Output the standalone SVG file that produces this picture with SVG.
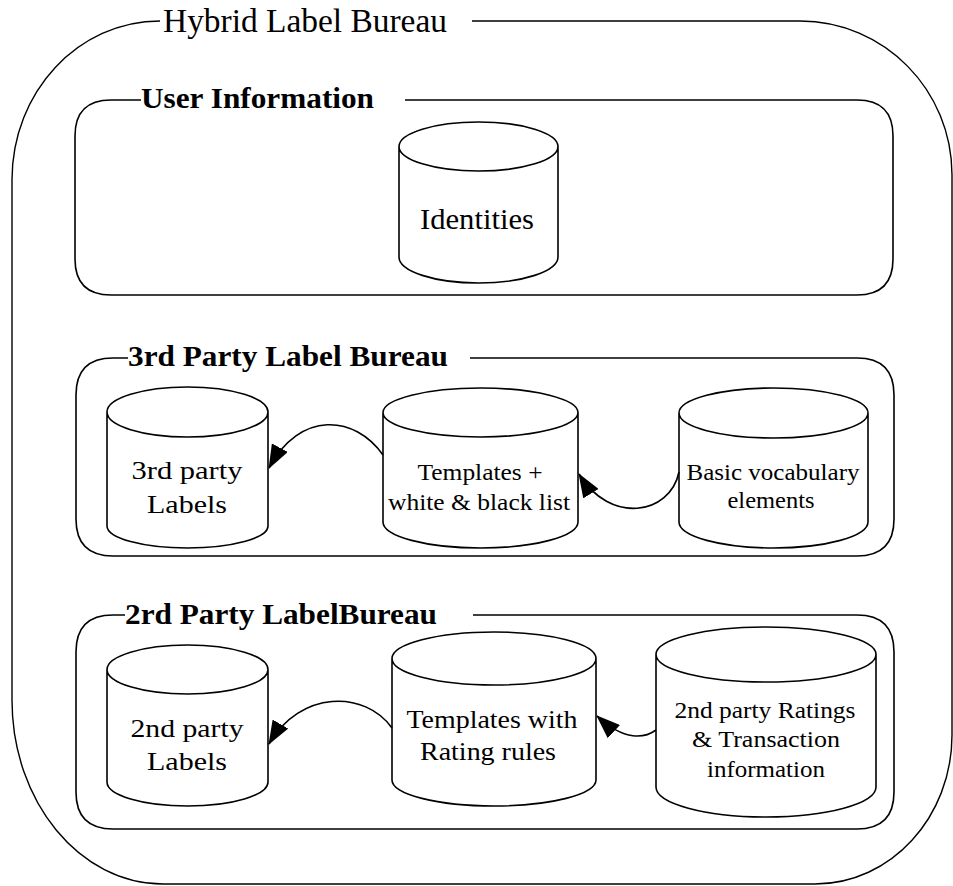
<svg xmlns="http://www.w3.org/2000/svg" width="953" height="886" viewBox="0 0 953 886">
  <style>
    .frame { fill: none; stroke: #000; stroke-width: 1.4; }
    .box { fill: none; stroke: #000; stroke-width: 1.6; }
    .db { fill: #fff; stroke: #000; stroke-width: 1.6; }
    .edge { fill: none; stroke: #000; stroke-width: 1.6; marker-end: url(#head); }
    text { font-family: "Liberation Serif", "Times New Roman", Tinos, serif; fill: #000; }
    .group { font-weight: bold; }
    .label { text-anchor: middle; }
  </style>
  <defs>
    <marker id="head" viewBox="0 0 24 18" markerWidth="24" markerHeight="18" refX="23" refY="9" orient="auto" markerUnits="userSpaceOnUse">
      <path d="M0,0 L24,9 L0,18 z" fill="#000"/>
    </marker>
  </defs>

  <rect width="953" height="886" fill="#fff"/>

  <!-- Outer container -->
  <g id="hybrid-label-bureau">
    <path class="frame" d="M472,21 L800,21 C884,21 952,90 952,175 L952,735 C952,817 891,884 815,884 L163,884 C80,884 12,802 12,700 L12,180 C12,92 78,21 160,21"/>
    <text x="163" y="32" font-family="Liberation Serif, serif" font-size="34" textLength="284" lengthAdjust="spacingAndGlyphs">Hybrid Label Bureau</text>
  </g>

  <!-- User Information -->
  <g id="user-information">
    <path class="box" d="M405,100 L857,100 Q893,100 893,136 L893,259 Q893,295 857,295 L111,295 Q75,295 75,259 L75,136 Q75,100 111,100 L141,100"/>
    <text class="group" x="141" y="108" font-family="Liberation Serif, serif" font-size="30" textLength="233" lengthAdjust="spacingAndGlyphs">User Information</text>
  </g>

  <g id="identities">
    <path class="db" d="M399,146.5 A79.5,24.5 0 1 1 558,146.5 A79.5,24.5 0 1 1 399,146.5 Z M399,146.5 L399,257 A79.5,26 0 0 0 558,257 L558,146.5"/>
    <text class="label" x="477" y="229" font-family="Liberation Serif, serif" font-size="29" textLength="114" lengthAdjust="spacingAndGlyphs">Identities</text>
  </g>

  <!-- 3rd Party Label Bureau -->
  <g id="third-party-bureau">
    <path class="box" d="M470,358 L857,358 Q894,358 894,395 L894,519 Q894,556 857,556 L113,556 Q76,556 76,519 L76,395 Q76,358 113,358 L128,358"/>
    <text class="group" x="128" y="366" font-family="Liberation Serif, serif" font-size="29" textLength="320" lengthAdjust="spacingAndGlyphs">3rd Party Label Bureau</text>
  </g>

  <g id="third-party-labels">
    <path class="db" d="M107,412 A80.5,25 0 1 1 268,412 A80.5,25 0 1 1 107,412 Z M107,412 L107,526 A80.5,22 0 0 0 268,526 L268,412"/>
    <text class="label" x="187" y="479" font-family="Liberation Serif, serif" font-size="25" textLength="111" lengthAdjust="spacingAndGlyphs">3rd party</text>
    <text class="label" x="187" y="513" font-family="Liberation Serif, serif" font-size="25" textLength="80" lengthAdjust="spacingAndGlyphs">Labels</text>
  </g>

  <g id="templates-lists">
    <path class="db" d="M383,412.5 A97.5,24.5 0 1 1 578,412.5 A97.5,24.5 0 1 1 383,412.5 Z M383,412.5 L383,522 A97.5,26 0 0 0 578,522 L578,412.5"/>
    <text class="label" x="480" y="480" font-family="Liberation Serif, serif" font-size="23" textLength="125" lengthAdjust="spacingAndGlyphs">Templates +</text>
    <text class="label" x="479" y="510" font-family="Liberation Serif, serif" font-size="23" textLength="182" lengthAdjust="spacingAndGlyphs">white &amp; black list</text>
  </g>

  <g id="basic-vocabulary">
    <path class="db" d="M679,413 A94.5,25 0 1 1 868,413 A94.5,25 0 1 1 679,413 Z M679,413 L679,522 A94.5,26 0 0 0 868,522 L868,413"/>
    <text class="label" x="773" y="480" font-family="Liberation Serif, serif" font-size="23" textLength="173" lengthAdjust="spacingAndGlyphs">Basic vocabulary</text>
    <text class="label" x="771" y="508" font-family="Liberation Serif, serif" font-size="23" textLength="87" lengthAdjust="spacingAndGlyphs">elements</text>
  </g>

  <!-- 2nd Party Label Bureau -->
  <g id="second-party-bureau">
    <path class="box" d="M473,615 L857,615 Q894,615 894,652 L894,792 Q894,829 857,829 L113,829 Q76,829 76,792 L76,652 Q76,615 113,615 L125,615"/>
    <text class="group" x="125" y="624" font-family="Liberation Serif, serif" font-size="29" textLength="312" lengthAdjust="spacingAndGlyphs">2rd Party LabelBureau</text>
  </g>

  <g id="second-party-labels">
    <path class="db" d="M107,669.5 A80.5,24.5 0 1 1 268,669.5 A80.5,24.5 0 1 1 107,669.5 Z M107,669.5 L107,782 A80.5,24 0 0 0 268,782 L268,669.5"/>
    <text class="label" x="187" y="737" font-family="Liberation Serif, serif" font-size="25" textLength="113" lengthAdjust="spacingAndGlyphs">2nd party</text>
    <text class="label" x="187" y="770" font-family="Liberation Serif, serif" font-size="25" textLength="80" lengthAdjust="spacingAndGlyphs">Labels</text>
  </g>

  <g id="templates-rating-rules">
    <path class="db" d="M392,658.5 A102,26.5 0 1 1 596,658.5 A102,26.5 0 1 1 392,658.5 Z M392,658.5 L392,780 A102,26 0 0 0 596,780 L596,658.5"/>
    <text class="label" x="492" y="728" font-family="Liberation Serif, serif" font-size="25" textLength="171" lengthAdjust="spacingAndGlyphs">Templates with</text>
    <text class="label" x="488" y="760" font-family="Liberation Serif, serif" font-size="25" textLength="136" lengthAdjust="spacingAndGlyphs">Rating rules</text>
  </g>

  <g id="ratings-transactions">
    <path class="db" d="M656,654.5 A110,27.5 0 1 1 876,654.5 A110,27.5 0 1 1 656,654.5 Z M656,654.5 L656,787 A110,30 0 0 0 876,787 L876,654.5"/>
    <text class="label" x="765" y="718" font-family="Liberation Serif, serif" font-size="23" textLength="181" lengthAdjust="spacingAndGlyphs">2nd party Ratings</text>
    <text class="label" x="766" y="747" font-family="Liberation Serif, serif" font-size="23" textLength="148" lengthAdjust="spacingAndGlyphs">&amp; Transaction</text>
    <text class="label" x="766" y="777" font-family="Liberation Serif, serif" font-size="23" textLength="118" lengthAdjust="spacingAndGlyphs">information</text>
  </g>

  <!-- Connectors -->
  <g id="connectors">
    <path class="edge" d="M383,455 C355,415 300,410 269,468"/>
    <path class="edge" d="M679,472 C670,515 610,525 579,474"/>
    <path class="edge" d="M392,728 C365,690 300,690 269,744"/>
    <path class="edge" d="M656,730 C645,738 625,742 597,716"/>
  </g>
</svg>
